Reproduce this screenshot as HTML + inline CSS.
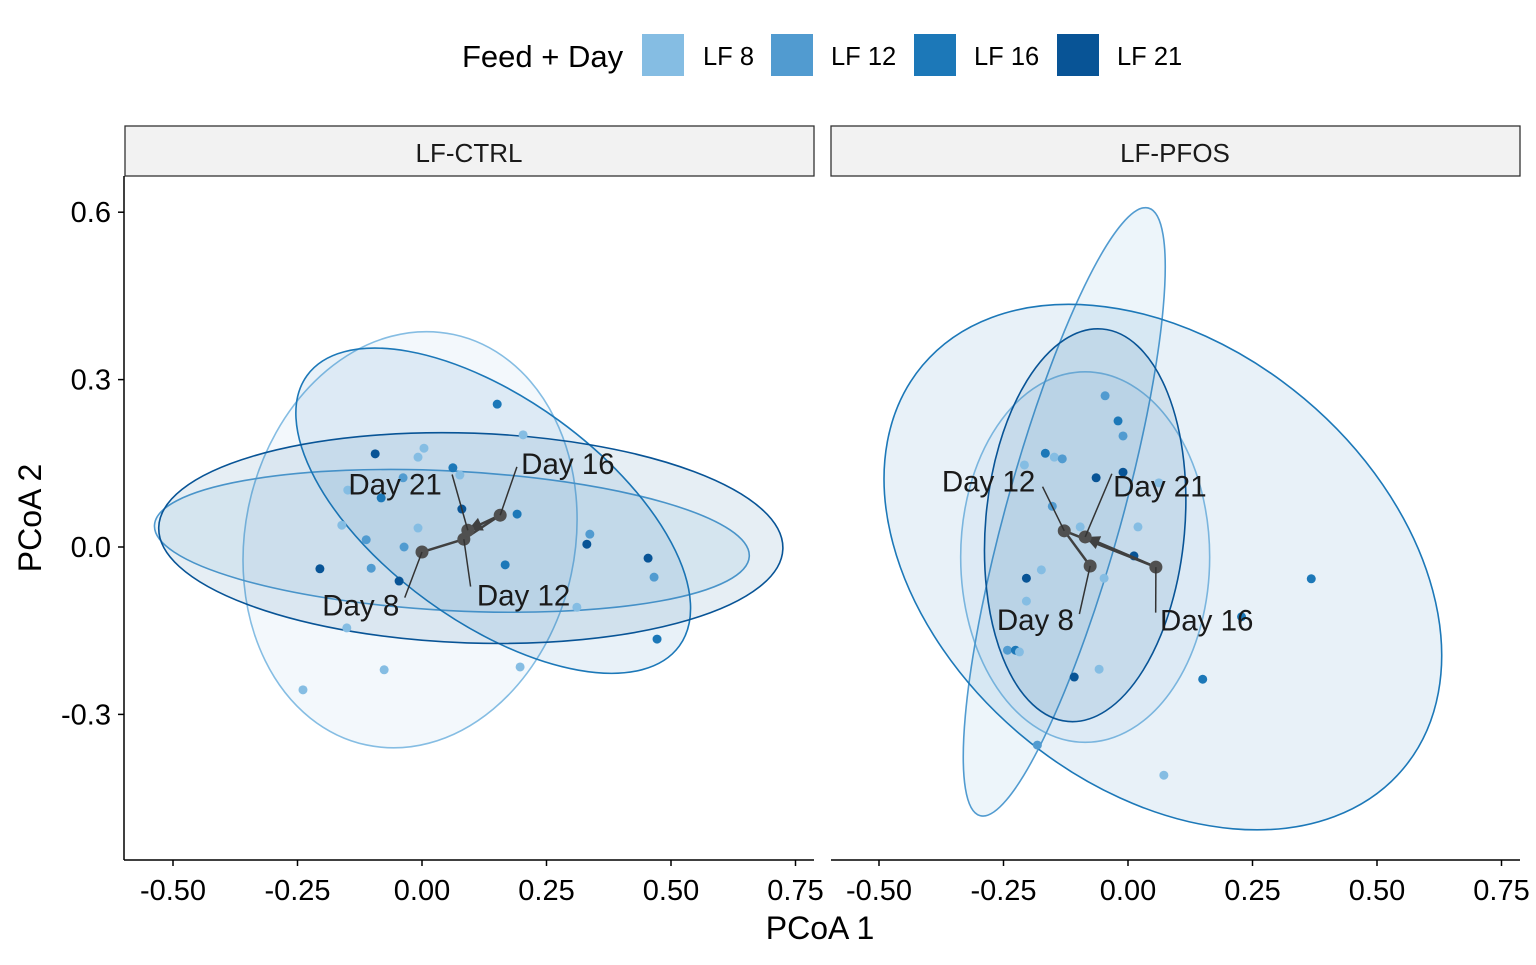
<!DOCTYPE html>
<html><head><meta charset="utf-8"><style>
html,body{margin:0;padding:0;background:#fff;}
svg text{font-family:"Liberation Sans",Arial,sans-serif;}
</style></head><body>
<svg id="chart" width="1536" height="960" viewBox="0 0 1536 960" xmlns="http://www.w3.org/2000/svg">
<g>
<text x="462" y="67" font-size="31" fill="#000">Feed + Day</text>
<rect x="642" y="34" width="42" height="42" fill="#85bde3"/>
<text x="703" y="65" font-size="25.5">LF 8</text>
<rect x="771" y="34" width="42" height="42" fill="#519bd0"/>
<text x="831" y="65" font-size="25.5">LF 12</text>
<rect x="914" y="34" width="42" height="42" fill="#1c78b8"/>
<text x="974" y="65" font-size="25.5">LF 16</text>
<rect x="1057" y="34" width="42" height="42" fill="#085496"/>
<text x="1117" y="65" font-size="25.5">LF 21</text>
</g>
<rect x="125" y="126" width="689" height="50" fill="#f2f2f2" stroke="#333" stroke-width="1.3"/>
<text x="469" y="162" font-size="26" text-anchor="middle" fill="#1a1a1a">LF-CTRL</text>
<rect x="831" y="126" width="689" height="50" fill="#f2f2f2" stroke="#333" stroke-width="1.3"/>
<text x="1175" y="162" font-size="26" text-anchor="middle" fill="#1a1a1a">LF-PFOS</text>
<text x="820" y="939" font-size="32" text-anchor="middle">PCoA 1</text>
<text x="0" y="0" font-size="32" text-anchor="middle" transform="translate(41,518) rotate(-90)">PCoA 2</text>
<g id="plots"></g>
</svg>
<script>
const colors = ["#85bde3","#519bd0","#1c78b8","#085496"];
const xTicks = [-0.5,-0.25,0,0.25,0.5,0.75];
const xTickLabels = ["-0.50","-0.25","0.00","0.25","0.50","0.75"];
const yTicks = [0.6,0.3,0,-0.3];
const yTickLabels = ["0.6","0.3","0.0","-0.3"];
// left panel (LF-CTRL) samples
const ctrlX = [.151,.203,-.094,.004,-.008,.062,.076,-.038,-.149,-.082,.080,.191,-.161,-.008,-.112,.337,.331,-.036,-.205,-.102,.167,.454,.466,-.046,.311,-.151,.472,-.076,.197,-.239];
const ctrlY = [.256,.201,.167,.177,.161,.142,.129,.124,.102,.088,.068,.059,.039,.034,.013,.023,.005,.000,-.039,-.038,-.032,-.020,-.054,-.061,-.108,-.145,-.165,-.220,-.215,-.256];
const ctrlG = [2,0,3,0,0,2,0,1,0,2,3,2,0,0,1,1,3,1,3,1,2,3,1,3,0,0,2,0,0,0];
// right panel (LF-PFOS) samples
const pfosX = [-.046,-.020,-.010,-.166,-.148,-.132,-.208,-.064,-.010,.062,-.152,-.096,.020,.012,-.174,-.204,-.048,-.204,.368,-.242,-.226,-.218,-.058,-.108,.150,-.182,.072,.228];
const pfosY = [.271,.226,.199,.168,.161,.158,.147,.124,.134,.115,.073,.036,.036,-.016,-.041,-.056,-.056,-.097,-.057,-.185,-.185,-.188,-.219,-.233,-.237,-.355,-.409,-.125];
const pfosG = [1,2,1,2,0,1,0,3,3,0,1,0,0,3,0,3,0,0,2,1,2,0,0,3,2,1,0,2];
// ellipses: centre, semi-axes (data units), rotation deg
const ctrlEllCX=[-.024,.060,.143,.098], ctrlEllCY=[.013,.011,.065,.016], ctrlEllRX=[.331,.598,.462,.627], ctrlEllRY=[.376,.125,.2,.188], ctrlEllRot=[12,3,36,2];
const pfosEllCX=[-.086,-.128,.07,-.086], pfosEllCY=[-.018,.063,-.036,.039], pfosEllRX=[.25,.116,.63,.2], pfosEllRY=[.332,.565,.394,.353], pfosEllRot=[0,15.5,40,5];
// centroids order: Day 8, 12, 16, 21
const dayLabels=["Day 8","Day 12","Day 16","Day 21"];
const ctrlCenX=[0,.084,.157,.092], ctrlCenY=[-.009,.014,.057,.030];
const pfosCenX=[-.076,-.128,.056,-.086], pfosCenY=[-.034,.029,-.036,.018];
const ctrlLabX=[-.123,.204,.293,-.054], ctrlLabY=[-.105,-.087,.149,.112];
const pfosLabX=[-.186,-.28,.158,.064], pfosLabY=[-.131,.117,-.132,.108];
// leader start offsets from label centre (px, layout)
const ctrlLeadDX=[44,-53,-51,57], ctrlLeadDY=[-8,-9,3,-10];
const pfosLeadDX=[44,54,-51,-48], pfosLeadDY=[-6,5,-8,-13];

const NS="http://www.w3.org/2000/svg";
const root=document.getElementById('plots');
function mk(tag,attrs,parent){const e=document.createElementNS(NS,tag);for(const k in attrs)e.setAttribute(k,attrs[k]);(parent||root).appendChild(e);return e;}

function panel(x0px, ptsX, ptsY, ptsG, eCX,eCY,eRX,eRY,eRot, cenX,cenY,labX,labY,ldx,ldy, name, leftAxis){
  const sx=v=>x0px+v*498, sy=v=>547-v*558;
  const g=mk('g',{});
  
  
  for(let i=0;i<4;i++){
    const e=mk('ellipse',{cx:sx(eCX[i]),cy:sy(eCY[i]),rx:eRX[i]*498,ry:eRY[i]*558,transform:`rotate(${eRot[i]} ${sx(eCX[i])} ${sy(eCY[i])})`,fill:colors[i],'fill-opacity':0.1,stroke:colors[i],'stroke-width':1.6},g);
    
    
  }
  for(let i=0;i<ptsX.length;i++){
    const c=mk('circle',{cx:sx(ptsX[i]),cy:sy(ptsY[i]),r:4.5,fill:colors[ptsG[i]]},g);
    
    
  }
  const seg=(a,b,arrow)=>{
    const l=mk('line',{x1:sx(cenX[a]),y1:sy(cenY[a]),x2:sx(cenX[b]),y2:sy(cenY[b]),stroke:'#404040','stroke-width':2.5},g);
    
    
    if(arrow){
      const x1=sx(cenX[a]),y1=sy(cenY[a]),x2=sx(cenX[b]),y2=sy(cenY[b]);
      const an=Math.atan2(y2-y1,x2-x1),L=16,w=0.45;
      const p=[[x2,y2],[x2-L*Math.cos(an-w),y2-L*Math.sin(an-w)],[x2-L*Math.cos(an+w),y2-L*Math.sin(an+w)]];
      const t=mk('polygon',{points:p.map(q=>q.join(',')).join(' '),fill:'#404040'},g);
      
      
    }
  };
  seg(0,1,false);seg(1,2,false);seg(2,3,true);
  for(let i=0;i<4;i++){
    const c=mk('circle',{cx:sx(cenX[i]),cy:sy(cenY[i]),r:6.5,fill:'#505050'},g);
    
    
    const lx=sx(labX[i]), ly=sy(labY[i]);
    const ln=mk('line',{x1:lx+ldx[i],y1:ly+ldy[i],x2:sx(cenX[i]),y2:sy(cenY[i]),stroke:'#333','stroke-width':1.5},g);
    
    
    const t=mk('text',{x:lx,y:ly+10,'font-size':29.5,'text-anchor':'middle',fill:'#1a1a1a'},g);
    t.textContent=dayLabels[i];
    
    
  }
  const left=x0px===422?124:831, right=x0px===422?814:1520;
  const ax=mk('line',{x1:left,y1:860,x2:right,y2:860,stroke:'#000','stroke-width':1.5},g);
  
  
  xTicks.forEach((v,i)=>{
    mk('line',{x1:sx(v),y1:860,x2:sx(v),y2:866,stroke:'#000','stroke-width':1.5},g);
    const t=mk('text',{x:sx(v),y:900,'font-size':29,'text-anchor':'middle',fill:'#000'},g);
    t.textContent=xTickLabels[i];
    
    
  });
  if(leftAxis){
    const ay=mk('line',{x1:124,y1:176,x2:124,y2:860,stroke:'#000','stroke-width':1.5},g);
    
    
    yTicks.forEach((v,i)=>{
      mk('line',{x1:118,y1:sy(v),x2:124,y2:sy(v),stroke:'#000','stroke-width':1.5},g);
      const t=mk('text',{x:111,y:sy(v)+10,'font-size':29,'text-anchor':'end',fill:'#000'},g);
      t.textContent=yTickLabels[i];
      
      
    });
  }
}
panel(422,ctrlX,ctrlY,ctrlG,ctrlEllCX,ctrlEllCY,ctrlEllRX,ctrlEllRY,ctrlEllRot,ctrlCenX,ctrlCenY,ctrlLabX,ctrlLabY,ctrlLeadDX,ctrlLeadDY,'lf-ctrl',true);
panel(1128,pfosX,pfosY,pfosG,pfosEllCX,pfosEllCY,pfosEllRX,pfosEllRY,pfosEllRot,pfosCenX,pfosCenY,pfosLabX,pfosLabY,pfosLeadDX,pfosLeadDY,'lf-pfos',false);
</script>
</body></html>
